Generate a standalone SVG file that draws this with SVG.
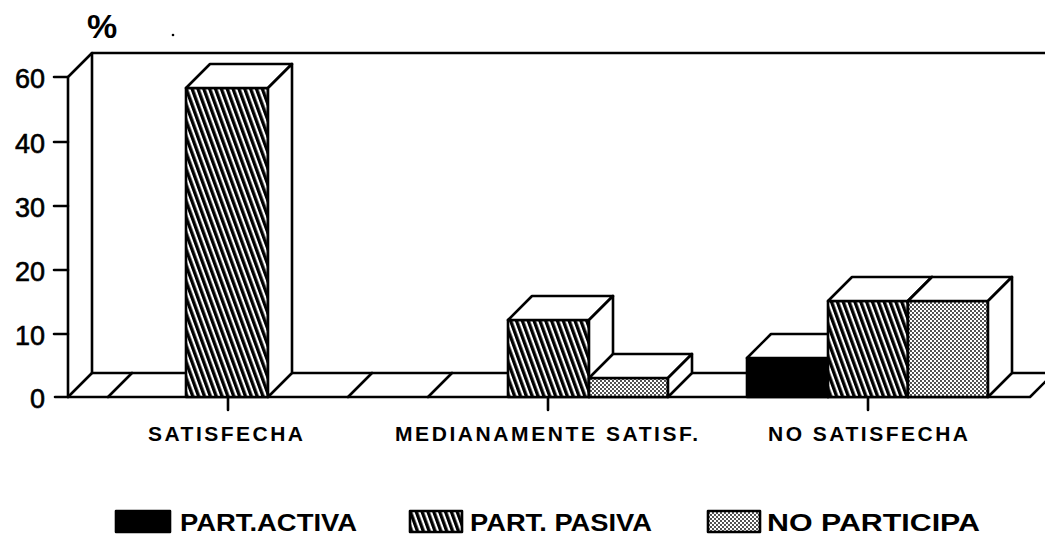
<svg xmlns="http://www.w3.org/2000/svg" width="1045" height="537" viewBox="0 0 1045 537">
<defs>
<pattern id="hatch" patternUnits="userSpaceOnUse" width="5.5" height="6" patternTransform="rotate(-20)">
<rect width="5.5" height="6" fill="#fff"/>
<rect x="0" y="0" width="3.3" height="6" fill="#000"/>
</pattern>
<pattern id="dots" patternUnits="userSpaceOnUse" width="4" height="4">
<rect width="4" height="4" fill="#fff"/>
<circle cx="1" cy="1" r="0.9" fill="#000"/>
<circle cx="3" cy="3" r="0.9" fill="#000"/>
</pattern>
<style>
.ln{fill:none;stroke:#000;stroke-width:2.6;stroke-linejoin:round;stroke-linecap:round}
.face{stroke:#000;stroke-width:2.6;stroke-linejoin:round}
.wf{fill:#fff;stroke:#000;stroke-width:2.6;stroke-linejoin:round}
.ylab{font-family:"Liberation Sans",Arial,sans-serif;font-size:27px;fill:#000;stroke:#000;stroke-width:0.6;text-anchor:end}
.cat{font-family:"Liberation Sans",Arial,sans-serif;font-size:21px;font-weight:bold;fill:#000}
.leg{font-family:"Liberation Sans",Arial,sans-serif;font-size:24px;font-weight:bold;fill:#000}
</style>
</defs>
<rect width="1045" height="537" fill="#fff"/>
<g id="axes">
<text x="87" y="38" font-family="Liberation Sans, Arial, sans-serif" font-size="34" font-weight="bold" fill="#000">%</text>
<circle cx="173" cy="35" r="1.3" fill="#000"/>
<path class="ln" d="M68,397 L68,77 L92,53 L1045,53"/>
<path class="ln" d="M92,53 L92,373 L1045,373"/>
<path class="ln" d="M55,397 L1030,397 L1054,373"/>
<path class="ln" d="M68,397 L92,373 M108,397 L132,373 M348,397 L372,373 M428,397 L452,373"/>
<path class="ln" d="M54,77 L68,77 M54,142 L68,142 M54,206 L68,206 M54,270 L68,270 M54,334 L68,334"/>
<path class="ln" d="M228,397 L228,410 M548,397 L548,410 M868,397 L868,410"/>
<text class="ylab" x="45" y="88">60</text>
<text class="ylab" x="45" y="153">40</text>
<text class="ylab" x="45" y="217">30</text>
<text class="ylab" x="45" y="281">20</text>
<text class="ylab" x="45" y="345">10</text>
<text class="ylab" x="45" y="408">0</text>
</g>
<g id="bar-satisfecha-pasiva">
<rect class="face" x="186" y="88" width="82" height="309" fill="url(#hatch)"/>
<polygon class="wf" points="186,88 268,88 292,64 210,64"/>
<polygon class="wf" points="268,88 292,64 292,373 268,397"/>
</g>
<g id="bar-medianamente-pasiva">
<rect class="face" x="508" y="320" width="81" height="77" fill="url(#hatch)"/>
<polygon class="wf" points="508,320 589,320 613,296 532,296"/>
<polygon class="wf" points="589,320 613,296 613,373 589,397"/>
</g>
<g id="bar-medianamente-noparticipa">
<rect class="face" x="589" y="378" width="79" height="19" fill="url(#dots)"/>
<polygon class="wf" points="589,378 668,378 692,354 613,354"/>
<polygon class="wf" points="668,378 692,354 692,373 668,397"/>
</g>
<g id="bar-nosatisfecha-activa">
<rect class="face" x="747" y="358" width="81" height="39" fill="#000"/>
<polygon class="wf" points="747,358 828,358 852,334 771,334"/>
<polygon class="wf" points="828,358 852,334 852,373 828,397"/>
</g>
<g id="bar-nosatisfecha-pasiva">
<rect class="face" x="828" y="301" width="80" height="96" fill="url(#hatch)"/>
<polygon class="wf" points="828,301 908,301 932,277 852,277"/>
<polygon class="wf" points="908,301 932,277 932,373 908,397"/>
</g>
<g id="bar-nosatisfecha-noparticipa">
<rect class="face" x="908" y="301" width="80" height="96" fill="url(#dots)"/>
<polygon class="wf" points="908,301 988,301 1012,277 932,277"/>
<polygon class="wf" points="988,301 1012,277 1012,373 988,397"/>
</g>
<g id="categories">
<text class="cat" x="148" y="441" textLength="155" lengthAdjust="spacing">SATISFECHA</text>
<text class="cat" x="395" y="441" textLength="303" lengthAdjust="spacing">MEDIANAMENTE SATISF.</text>
<text class="cat" x="768" y="441" textLength="200" lengthAdjust="spacing">NO SATISFECHA</text>
</g>
<g id="legend">
<rect class="face" x="116" y="511" width="54" height="21" fill="#000"/>
<text class="leg" x="180" y="531" textLength="177" lengthAdjust="spacingAndGlyphs">PART.ACTIVA</text>
<rect class="face" x="410" y="511" width="52" height="21" fill="url(#hatch)"/>
<text class="leg" x="470" y="531" textLength="182" lengthAdjust="spacingAndGlyphs">PART. PASIVA</text>
<rect class="face" x="708" y="511" width="52" height="21" fill="url(#dots)"/>
<text class="leg" x="767" y="531" textLength="213" lengthAdjust="spacingAndGlyphs">NO PARTICIPA</text>
</g>
</svg>
